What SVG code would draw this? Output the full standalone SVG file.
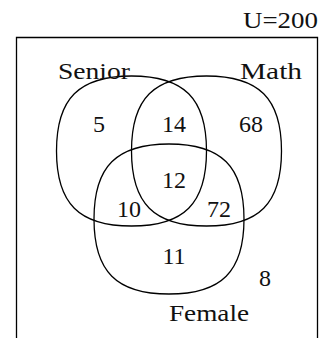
<svg xmlns="http://www.w3.org/2000/svg" width="326" height="338" viewBox="0 0 326 338">
<style>
.s{fill:none;stroke:#000;stroke-width:1.3}
text{font-family:"Liberation Serif","DejaVu Serif",serif;font-size:24px;fill:#111}
.n{text-anchor:middle}
</style>
<defs>
<path id="sq" d="M0,-75 C52.5,-75 75,-52.5 75,0 C75,52.5 52.5,75 0,75 C-52.5,75 -75,52.5 -75,0 C-75,-52.5 -52.5,-75 0,-75 Z"/>
</defs>
<rect x="0" y="0" width="326" height="338" fill="#fff"/>
<g id="universe">
<path class="s" d="M16.5,340 V37.5 H317.5 V340"/>
<text x="318" y="28" text-anchor="end" textLength="75" lengthAdjust="spacingAndGlyphs">U=200</text>
</g>
<g id="senior">
<use href="#sq" class="s" transform="translate(131.5,151)"/>
<text x="58" y="79" textLength="72" lengthAdjust="spacingAndGlyphs">Senior</text>
</g>
<g id="math">
<use href="#sq" class="s" transform="translate(206.5,151)"/>
<text x="240" y="79" textLength="62" lengthAdjust="spacingAndGlyphs">Math</text>
</g>
<g id="female">
<use href="#sq" class="s" transform="translate(169,219)"/>
<text x="169" y="321" textLength="80" lengthAdjust="spacingAndGlyphs">Female</text>
</g>
<g id="counts">
<text class="n" x="99" y="132">5</text>
<text class="n" x="174" y="132">14</text>
<text class="n" x="251" y="132">68</text>
<text class="n" x="174" y="188">12</text>
<text class="n" x="129" y="217">10</text>
<text class="n" x="219" y="217">72</text>
<text class="n" x="174" y="264">11</text>
<text class="n" x="265" y="286">8</text>
</g>
</svg>
